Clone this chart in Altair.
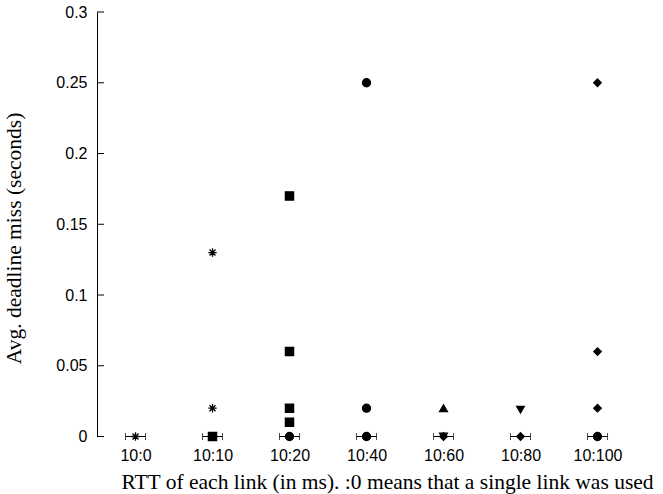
import json
import altair as alt
import pandas as pd

categories = ["10:0", "10:10", "10:20", "10:40", "10:60", "10:80", "10:100"]

# scatter points: category index, value, marker
pt_cat = [0, 1, 1, 1, 1,
          2, 2, 2, 2, 2,
          3, 3, 3,
          4, 4, 4,
          5, 5,
          6, 6, 6, 6, 6]
pt_val = [0.0, 0.13, 0.02, 0.0, 0.0,
          0.17, 0.06, 0.02, 0.01, 0.0,
          0.25, 0.02, 0.0,
          0.02, 0.0, 0.0,
          0.019, 0.0,
          0.25, 0.06, 0.02, 0.0, 0.0]
pt_shape = ["star", "star", "star", "square", "star",
            "square", "square", "square", "square", "circle",
            "circle", "circle", "circle",
            "tri_up", "diamond", "tri_down",
            "tri_down", "diamond",
            "diamond", "diamond", "diamond", "diamond", "circle"]

# horizontal error bars at the zero line
err_cat = [0, 1, 2, 3, 4, 5, 6]
err_val = [0.0, 0.0, 0.0, 0.0, 0.0, 0.0, 0.0]
err_half = [0.13, 0.13, 0.13, 0.13, 0.13, 0.13, 0.13]

y_ticks = [0, 0.05, 0.1, 0.15, 0.2, 0.25, 0.3]

pts = pd.DataFrame({"x": pt_cat, "y": pt_val, "s": pt_shape})
err = pd.DataFrame({
    "x": err_cat, "y": err_val,
    "lo": [c - h for c, h in zip(err_cat, err_half)],
    "hi": [c + h for c, h in zip(err_cat, err_half)],
})
ticks = pd.DataFrame({"y": y_ticks})

SANS = "Liberation Sans"
SERIF = "Liberation Serif"

label_expr = json.dumps(categories).replace('"', "'") + "[datum.value]"

xscale = alt.Scale(domain=[-0.5, 6.5], nice=False, zero=False)
yscale = alt.Scale(domain=[0, 0.3], nice=False)

x_axis = alt.Axis(
    values=list(range(len(categories))), labelExpr=label_expr,
    domain=False, ticks=False, grid=False,
    labelFont=SANS, labelFontSize=16, labelColor="black", labelPadding=11,
    title="RTT of each link (in ms). :0 means that a single link was used",
    titleFont=SERIF, titleFontSize=21.5, titleFontWeight="normal", titleColor="black",
    titleX=290, titleY=52, titleBaseline="alphabetic", titleAlign="center",
)
y_axis = alt.Axis(
    values=y_ticks, format=".2~f",
    domain=True, domainColor="black", domainWidth=1,
    ticks=False, grid=False,
    labelFont=SANS, labelFontSize=16, labelColor="black", labelPadding=10,
    title="Avg. deadline miss (seconds)",
    titleFont=SERIF, titleFontSize=21.5, titleFontWeight="normal", titleColor="black",
    titleAngle=270, titleX=-83, titleY=226, titleAlign="center", titleBaseline="middle",
)

star_path = "M-1,0L1,0M0,-1L0,1M-0.72,-0.72L0.72,0.72M-0.72,0.72L0.72,-0.72"
shape_scale = alt.Scale(
    domain=["star", "square", "circle", "tri_up", "tri_down", "diamond"],
    range=[star_path, "square", "circle", "triangle-up", "triangle-down", "diamond"],
)
size_scale = alt.Scale(
    domain=["star", "square", "circle", "tri_up", "tri_down", "diamond"],
    range=[70, 56, 48, 36, 36, 44],
)

base_x = alt.X("x:Q", scale=xscale, axis=x_axis)
base_y = alt.Y("y:Q", scale=yscale, axis=y_axis)

points = alt.Chart(pts).mark_point(
    filled=True, fill="black", stroke="black", strokeWidth=1.3, opacity=1
).encode(
    x=base_x, y=base_y,
    shape=alt.Shape("s:N", scale=shape_scale, legend=None),
    size=alt.Size("s:N", scale=size_scale, legend=None),
)

err_line = alt.Chart(err).mark_rule(color="black", strokeWidth=1).encode(
    x=alt.X("lo:Q", scale=xscale), x2="hi:Q", y=alt.Y("y:Q", scale=yscale)
)
cap_lo = alt.Chart(err).mark_tick(color="black", thickness=1, size=7, orient="vertical").encode(
    x=alt.X("lo:Q", scale=xscale), y=alt.Y("y:Q", scale=yscale)
)
cap_hi = alt.Chart(err).mark_tick(color="black", thickness=1, size=7, orient="vertical").encode(
    x=alt.X("hi:Q", scale=xscale), y=alt.Y("y:Q", scale=yscale)
)

inner_ticks = alt.Chart(ticks).mark_rule(color="black", strokeWidth=1).encode(
    y=alt.Y("y:Q", scale=yscale), x=alt.value(0), x2=alt.value(7)
)

chart = alt.layer(points, err_line, cap_lo, cap_hi, inner_ticks).properties(
    width=539, height=424.5,
    autosize=alt.AutoSizeParams(type="none"),
    padding={"left": 97, "top": 12, "right": 27, "bottom": 57.5},
    background="white",
).configure_view(stroke=None)

chart.save("out.html", embed_options={"renderer": "svg", "actions": False})
